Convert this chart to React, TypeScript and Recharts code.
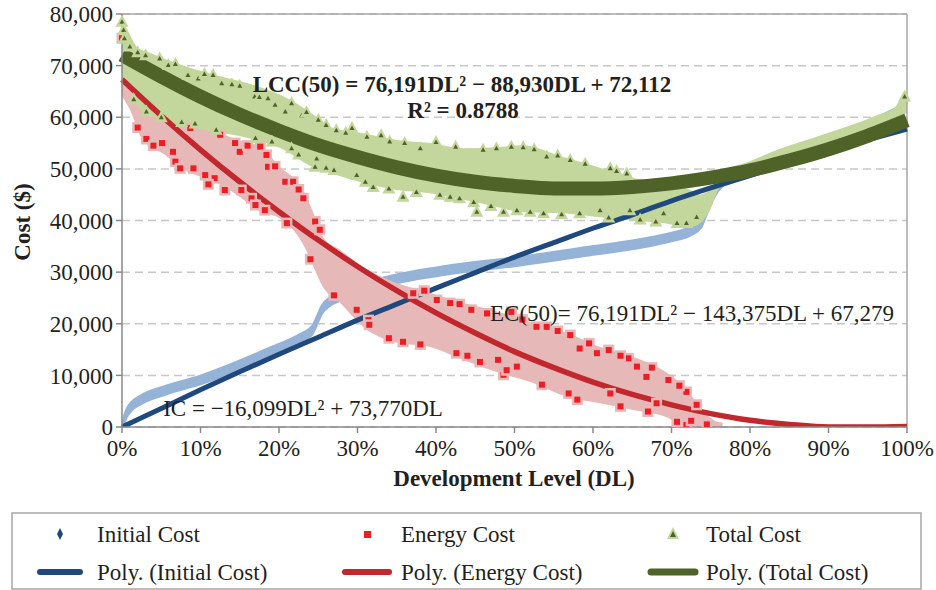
import React from 'react'
import {
  ComposedChart,
  Line,
  Area,
  Scatter,
  XAxis,
  YAxis,
  CartesianGrid,
  ReferenceLine,
} from 'recharts'

// development level (%) and cost ($)

// fitted trend lines, sampled every 5%
const fitDL = [0, 5, 10, 15, 20, 25, 30, 35, 40, 45, 50, 55, 60, 65, 70, 75, 80, 85, 90, 95, 100]
const icFit = [0, 3600, 7200, 10700, 14100, 17400, 20700, 23800, 26900, 29900, 32900, 35700, 38500, 41100, 43800, 46300, 48700, 51100, 53400, 55600, 57700]
const ecFit = [67300, 60300, 53700, 47500, 41700, 36200, 31100, 26400, 22100, 18200, 14600, 11500, 8700, 6300, 4300, 2600, 1300, 500, 0, 0, 100]
const tcFit = [72100, 67900, 64000, 60500, 57400, 54600, 52300, 50300, 48700, 47500, 46700, 46200, 46200, 46500, 47200, 48300, 49700, 51600, 53800, 56400, 59400]

// initial cost points (dense, they read as one thick curve)
const icDL = [0, 0.3, 0.6, 1.2, 2.3, 5.7, 10, 14, 18.5, 22.7, 24.2, 24.8, 25.4, 26.5, 28, 33, 41, 50, 60, 67, 70, 72.5, 73.8, 74.6, 75.5, 76.5, 80, 85, 90, 95, 100]
const icCost = [0, 1500, 2700, 4000, 5200, 7200, 9100, 11400, 14300, 17200, 18700, 20500, 22600, 24300, 25400, 28000, 30300, 32000, 34200, 35800, 36800, 38000, 39500, 42500, 45500, 47500, 50000, 52800, 55600, 58400, 62000]

// energy cost cloud: lower / upper edge
const ecBandDL = [0, 1, 2.5, 5.5, 7.6, 11.8, 14, 18, 20, 22, 23.2, 24.4, 25.6, 27.8, 30.7, 35, 39.2, 43.5, 48, 52.4, 56.7, 60.9, 65.1, 69.4, 72, 73.6, 75.3, 76.5]
const ecLow = [64000, 61500, 55900, 52700, 50100, 47500, 45600, 41500, 40500, 37800, 35000, 31000, 27100, 24000, 19400, 16300, 15500, 13000, 10500, 8500, 5800, 4600, 3300, 1900, 0, 0, 0, 0]
const ecHigh = [77000, 69000, 66000, 62000, 59100, 57500, 56000, 54000, 50500, 48000, 45500, 41400, 36800, 34300, 31000, 27900, 26000, 24000, 22300, 20100, 18200, 15500, 13600, 10500, 7200, 3900, 1400, 800]

// energy cost points that stand out
const ecPtDL = [0, 3.1, 5.1, 6.5, 6.8, 7.4, 8.7, 9.1, 10.6, 11.8, 13.1, 14.4, 15, 15.2, 16.5, 17.6, 18.4, 18.6, 18.2, 20.8, 21.8, 23.1, 24.6, 25.2, 29.9, 31.4, 35.8, 37.1, 40.1, 41.8, 42.6, 44.5, 45.6, 47.9, 49.6, 48.6, 50.3, 52.8, 54.1, 56.9, 57.1, 58.3, 60.5, 62, 62.2, 64.5, 65.6, 66.8, 68.1, 69.6, 71.9, 73.2, 70.7, 71.9,
  2, 4, 12.5, 16, 19.5, 22.5, 38.5, 43, 46.5, 51, 55.5, 59.5, 63.5, 67.5, 71,
  11, 17, 21, 24, 27, 31.5, 34, 38, 44, 49, 53.5, 58, 63.5, 67, 72.5, 74.5]
const ecPtCost = [75300, 55800, 55000, 53300, 51400, 50100, 57900, 50100, 48800, 48200, 45900, 55000, 53300, 45900, 44300, 54300, 52700, 50400, 42000, 47500, 47500, 44300, 39800, 38200, 22700, 20700, 16500, 25900, 24600, 24000, 14300, 22700, 12600, 13000, 22300, 10100, 11700, 19400, 19400, 6500, 17800, 15200, 14300, 14900, 6500, 13300, 11700, 9700, 4600, 9100, 6800, 4300, 1000, 400,
  58000, 54500, 56600, 54500, 50500, 46000, 26400, 23800, 22000, 20800, 18600, 16200, 13800, 11500, 8000,
  47000, 43000, 39500, 32500, 25500, 19800, 17200, 16000, 13800, 11000, 8200, 5300, 4000, 3000, 1200, 500]

// total cost cloud: lower / upper edge
const tcBandDL = [0, 1, 2, 3.7, 7.6, 11.8, 16, 20.2, 24.5, 26.5, 30.7, 35, 39.2, 43.5, 47.8, 51, 56.2, 60.5, 64.7, 68.9, 72.4, 73.5, 74.9, 76.2, 80, 84, 88, 92, 96, 98.5, 99.5, 100]
const tcLow = [68000, 65500, 62000, 60400, 58500, 57200, 56000, 54000, 50200, 49200, 47300, 45900, 45300, 44000, 42600, 41600, 41400, 40700, 40100, 39500, 38700, 39300, 42000, 46500, 48500, 51000, 53000, 55000, 57300, 59000, 60500, 61000]
const tcHigh = [79000, 76000, 73500, 72400, 70100, 68200, 66600, 64300, 60400, 58100, 56900, 55600, 55000, 54000, 54200, 54600, 52300, 50400, 48400, 47300, 45900, 45000, 46000, 49200, 51500, 54000, 56000, 58000, 60300, 62000, 64500, 65000]

// total cost points that stand out
const tcPtDL = [0, 0.2, 0.3, 1, 3.1, 4.8, 5.9, 6.8, 8.4, 9.7, 11.6, 12.7, 13.8, 15, 7.6, 9.3, 16.9, 18.6, 19.5, 20.8, 21.6, 22.9, 25, 24.6, 24.8, 21.6, 19.1, 27.3, 29.3, 31.2, 34.1, 29.9, 32, 35.8, 38, 41.8, 44.8, 45.2, 47.7, 49.6, 51.1, 48.6, 50.3, 54.1, 53.7, 57.1, 58.3, 62.2, 60.9, 64.3, 64.7, 69, 70.7, 71.9, 73.2, 99.7,
  26, 28.5, 33, 36, 40, 42.5, 46, 52.5, 55.5, 59, 63,
  27, 31, 34, 37.5, 40.5, 43, 47, 52, 56, 62, 66, 68,
  2, 3, 10.5, 14, 17.5, 23.5, 1.5, 5, 12, 17, 22.5, 26]
const tcPtCost = [78500, 76900, 75300, 73700, 61100, 71400, 70100, 70300, 68200, 67500, 68200, 66600, 65900, 66100, 59100, 58800, 64000, 63700, 62400, 61100, 62700, 60400, 59500, 50400, 52000, 54000, 55300, 57500, 57900, 56200, 55300, 48800, 46500, 44600, 54000, 44600, 43600, 41700, 54000, 54300, 54200, 41700, 42000, 52400, 41400, 51700, 41400, 50100, 42000, 49100, 42000, 41400, 39500, 39500, 40700, 64000,
  58500, 57000, 56500, 55000, 55200, 54300, 53700, 53800, 52600, 51000, 49600,
  49800, 47500, 46200, 45500, 45000, 44300, 42800, 41700, 41200, 40600, 40200, 39800,
  72600, 72000, 68400, 66400, 63900, 61000, 63500, 60000, 57600, 56000, 52800, 50200]

const xTicks = [0, 10, 20, 30, 40, 50, 60, 70, 80, 90, 100]
const yTicks = [0, 10000, 20000, 30000, 40000, 50000, 60000, 70000, 80000]

const pts = (xs: number[], ys: number[]) => xs.map((dl, i) => ({ dl, cost: ys[i] }))
const band = (xs: number[], lo: number[], hi: number[]) =>
  xs.map((dl, i) => ({ dl, band: [lo[i], hi[i]] }))
// the initial-cost cloud is so dense it reads as a thick stroke: draw it as a thin band
const HALF_STROKE = 850
const strokeBand = (xs: number[], ys: number[]) =>
  xs.map((dl, i) => ({ dl, band: [Math.max(0, ys[i] - HALF_STROKE), ys[i] + HALF_STROKE] }))

const FONT = '"Liberation Serif", "Times New Roman", serif'
const INK = '#231F20'
const FS = 23

const SquareDot = (props: any) => {
  const { cx, cy } = props
  return (
    <g>
      <rect x={cx - 5.5} y={cy - 5.5} width={11} height={11} fill="#E6B9B8" />
      <rect x={cx - 3} y={cy - 3} width={6} height={6} fill="#EE1C25" />
    </g>
  )
}

const TriangleDot = (props: any) => {
  const { cx, cy } = props
  return (
    <g>
      <polygon points={`${cx},${cy - 7} ${cx + 6.5},${cy + 5} ${cx - 6.5},${cy + 5}`} fill="#C3D69B" />
      <polygon points={`${cx},${cy - 2.5} ${cx + 2.5},${cy + 2} ${cx - 2.5},${cy + 2}`} fill="#4F6228" />
    </g>
  )
}

function Legend() {
  const text = { fontFamily: FONT, fontSize: FS, fill: INK }
  return (
    <svg width={936} height={90} style={{ position: 'absolute', left: 0, top: 500 }}>
      <rect x={12} y={13} width={909} height={76} fill="#fff" stroke="#A6A6A6" strokeWidth={1.5} />
      <polygon points="60,28 63,34 60,40 57,34" fill="#1F497D" />
      <text x={97} y={34} dominantBaseline="central" {...text}>Initial Cost</text>
      <rect x={364} y={31} width={7} height={7} fill="#EE1C25" />
      <text x={401} y={34} dominantBaseline="central" {...text}>Energy Cost</text>
      <polygon points="673,27 679,39 667,39" fill="#C3D69B" />
      <polygon points="673,31 676,37 670,37" fill="#4F6228" />
      <text x={706} y={34} dominantBaseline="central" {...text}>Total Cost</text>

      <line x1={40} x2={80} y1={72} y2={72} stroke="#1F497D" strokeWidth={6} strokeLinecap="round" />
      <text x={97} y={72} dominantBaseline="central" {...text}>Poly. (Initial Cost)</text>
      <line x1={345} x2={389} y1={72} y2={72} stroke="#C1272D" strokeWidth={6} strokeLinecap="round" />
      <text x={401} y={72} dominantBaseline="central" {...text}>Poly. (Energy Cost)</text>
      <line x1={651} x2={695} y1={72} y2={72} stroke="#4F6228" strokeWidth={7} strokeLinecap="round" />
      <text x={706} y={72} dominantBaseline="central" {...text}>Poly. (Total Cost)</text>
    </svg>
  )
}

function Notes() {
  const base = { fontFamily: FONT, fontSize: FS, fill: INK, dominantBaseline: 'central' as const }
  return (
    <svg width={936} height={500} style={{ position: 'absolute', left: 0, top: 0, pointerEvents: 'none' }}>
      <text x={22} y={222} transform="rotate(-90 22 222)" textAnchor="middle" fontWeight="bold" {...base}>Cost ($)</text>
      <text x={514} y={478} textAnchor="middle" fontWeight="bold" {...base}>Development Level (DL)</text>
      <text x={462} y={84} textAnchor="middle" fontWeight="bold" {...base}>LCC(50) = 76,191DL² − 88,930DL + 72,112</text>
      <text x={463} y={110} textAnchor="middle" fontWeight="bold" {...base}>R² = 0.8788</text>
      <text x={692} y={313} textAnchor="middle" {...base}>EC(50)= 76,191DL² − 143,375DL + 67,279</text>
      <text x={303} y={408} textAnchor="middle" {...base}>IC = −16,099DL² + 73,770DL</text>
    </svg>
  )
}

export default function App() {
  const tick = { fontSize: FS, fill: INK, fontFamily: FONT }
  return (
    <div style={{ position: 'absolute', left: 0, top: 0, width: 936, height: 590, background: '#fff' }}>
      <ComposedChart width={936} height={500} margin={{ top: 14, right: 29, bottom: 0, left: 0 }}>
        <CartesianGrid vertical={false} stroke="#C8C8C8" strokeWidth={1.5} strokeDasharray="8 5" />
        <XAxis
          type="number"
          dataKey="dl"
          domain={[0, 100]}
          ticks={xTicks}
          tickFormatter={(v) => `${v}%`}
          height={73}
          tick={tick}
          tickSize={6}
          tickMargin={7}
          stroke="#898989"
          strokeWidth={1.5}
        />
        <YAxis
          type="number"
          domain={[0, 80000]}
          ticks={yTicks}
          tickFormatter={(v) => v.toLocaleString('en-US')}
          width={122}
          tick={tick}
          tickSize={6}
          tickMargin={3}
          stroke="#898989"
          strokeWidth={1.5}
          allowDataOverflow
        />
        <ReferenceLine y={80000} stroke="#A6A6A6" strokeWidth={1.5} />
        <ReferenceLine x={100} stroke="#A6A6A6" strokeWidth={1.5} />

        <Area data={strokeBand(icDL, icCost)} dataKey="band" type="monotone" fill="#95B3D7" fillOpacity={1}
          stroke="#95B3D7" strokeWidth={2} dot={false} activeDot={false} isAnimationActive={false} />
        <Area data={band(ecBandDL, ecLow, ecHigh)} dataKey="band" type="monotone" fill="#E6B9B8" fillOpacity={1}
          stroke="none" dot={false} activeDot={false} isAnimationActive={false} />
        <Scatter data={pts(ecPtDL, ecPtCost)} dataKey="cost" shape={SquareDot} isAnimationActive={false} />
        <Area data={band(tcBandDL, tcLow, tcHigh)} dataKey="band" type="monotone" fill="#C3D69B" fillOpacity={1}
          stroke="none" dot={false} activeDot={false} isAnimationActive={false} />
        <Scatter data={pts(tcPtDL, tcPtCost)} dataKey="cost" shape={TriangleDot} isAnimationActive={false} />

        <Line data={pts(fitDL, icFit)} dataKey="cost" type="monotone" stroke="#1F497D" strokeWidth={5}
          dot={false} activeDot={false} isAnimationActive={false} />
        <Line data={pts(fitDL, ecFit)} dataKey="cost" type="monotone" stroke="#C1272D" strokeWidth={5.5}
          dot={false} activeDot={false} isAnimationActive={false} />
        <Line data={pts(fitDL, tcFit)} dataKey="cost" type="monotone" stroke="#4F6228" strokeWidth={14}
          dot={false} activeDot={false} isAnimationActive={false} />
      </ComposedChart>
      <Notes />
      <Legend />
    </div>
  )
}
